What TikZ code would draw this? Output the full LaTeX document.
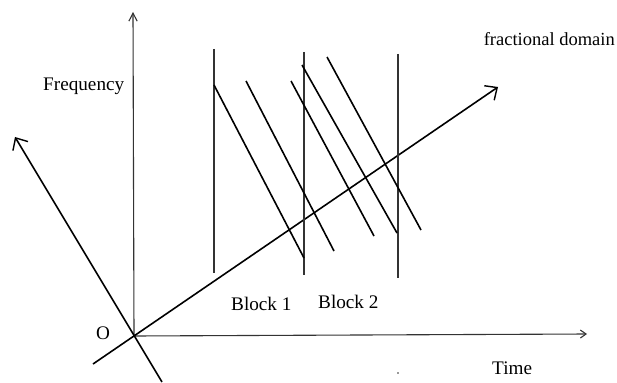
\documentclass[tikz,border=0pt]{standalone}
\usepackage{fontspec}
\setmainfont{Liberation Serif}
\usetikzlibrary{arrows.meta}
\begin{document}
\begin{tikzpicture}[x=1pt,y=-1pt,
  axis/.style={line width=1.1pt,draw=black!80},
  heavy/.style={line width=1.6pt,draw=black},
  blockline/.style={line width=1.1pt,draw=black!80},
  lbl/.style={inner sep=0pt,anchor=base west,font=\fontsize{19.2}{21}\selectfont},
  freqtip/.style={-{Straight Barb[angle=55:9pt,line width=1.1pt]}},
  timetip/.style={-{Straight Barb[angle=70:7pt,line width=1.1pt]}},
  widetip/.style={-{Straight Barb[angle=85:13pt,line width=1.4pt]}}]
\useasboundingbox (0,0) rectangle (617,382);
% key points
\coordinate (O) at (134,336);
\coordinate (Ftop) at (133,12);
\coordinate (Tend) at (587,334);
\coordinate (FDs) at (93,364);
\coordinate (FDe) at (498,87);
\coordinate (Ps) at (162,382);
\coordinate (Pe) at (15,137);
% axes
\draw[axis,freqtip] (O) -- (Ftop);
\draw[axis,timetip] (O) -- (Tend);
\draw[heavy,widetip] (FDs) -- (FDe);
\draw[heavy,widetip] (Ps) -- (Pe);
% block boundaries
\coordinate (v1a) at (214,49);  \coordinate (v1b) at (214,273);
\coordinate (v2a) at (304,52);  \coordinate (v2b) at (304,275);
\coordinate (v3a) at (398,54);  \coordinate (v3b) at (398,278);
\draw[blockline] (v1a) -- (v1b);
\draw[blockline] (v2a) -- (v2b);
\draw[blockline] (v3a) -- (v3b);
% slanted lines
\coordinate (d1a) at (214,85);  \coordinate (d1b) at (304,258);
\coordinate (d2a) at (246,81);  \coordinate (d2b) at (334,251);
\coordinate (d3a) at (291,81);  \coordinate (d3b) at (374,236);
\coordinate (d4a) at (302,65);  \coordinate (d4b) at (397,233);
\coordinate (d5a) at (327,57);  \coordinate (d5b) at (421,230);
\foreach \d in {d1,d2,d3,d4,d5} \draw[heavy] (\d a) -- (\d b);
% labels
\node[lbl] (freq) at (43,91) {Frequency};
\node[lbl,anchor=base east,font=\fontsize{18.5}{20}\selectfont] (frac) at (615,46) {fractional domain};
\node[lbl] (b1) at (231,310) {Block 1};
\node[lbl] (b2) at (318,308) {Block 2};
\node[lbl] (olbl) at (96,339) {O};
\node[lbl] (time) at (492,374) {Time};
\fill[black!80] (398,373) circle (0.8);
\end{tikzpicture}
\end{document}
